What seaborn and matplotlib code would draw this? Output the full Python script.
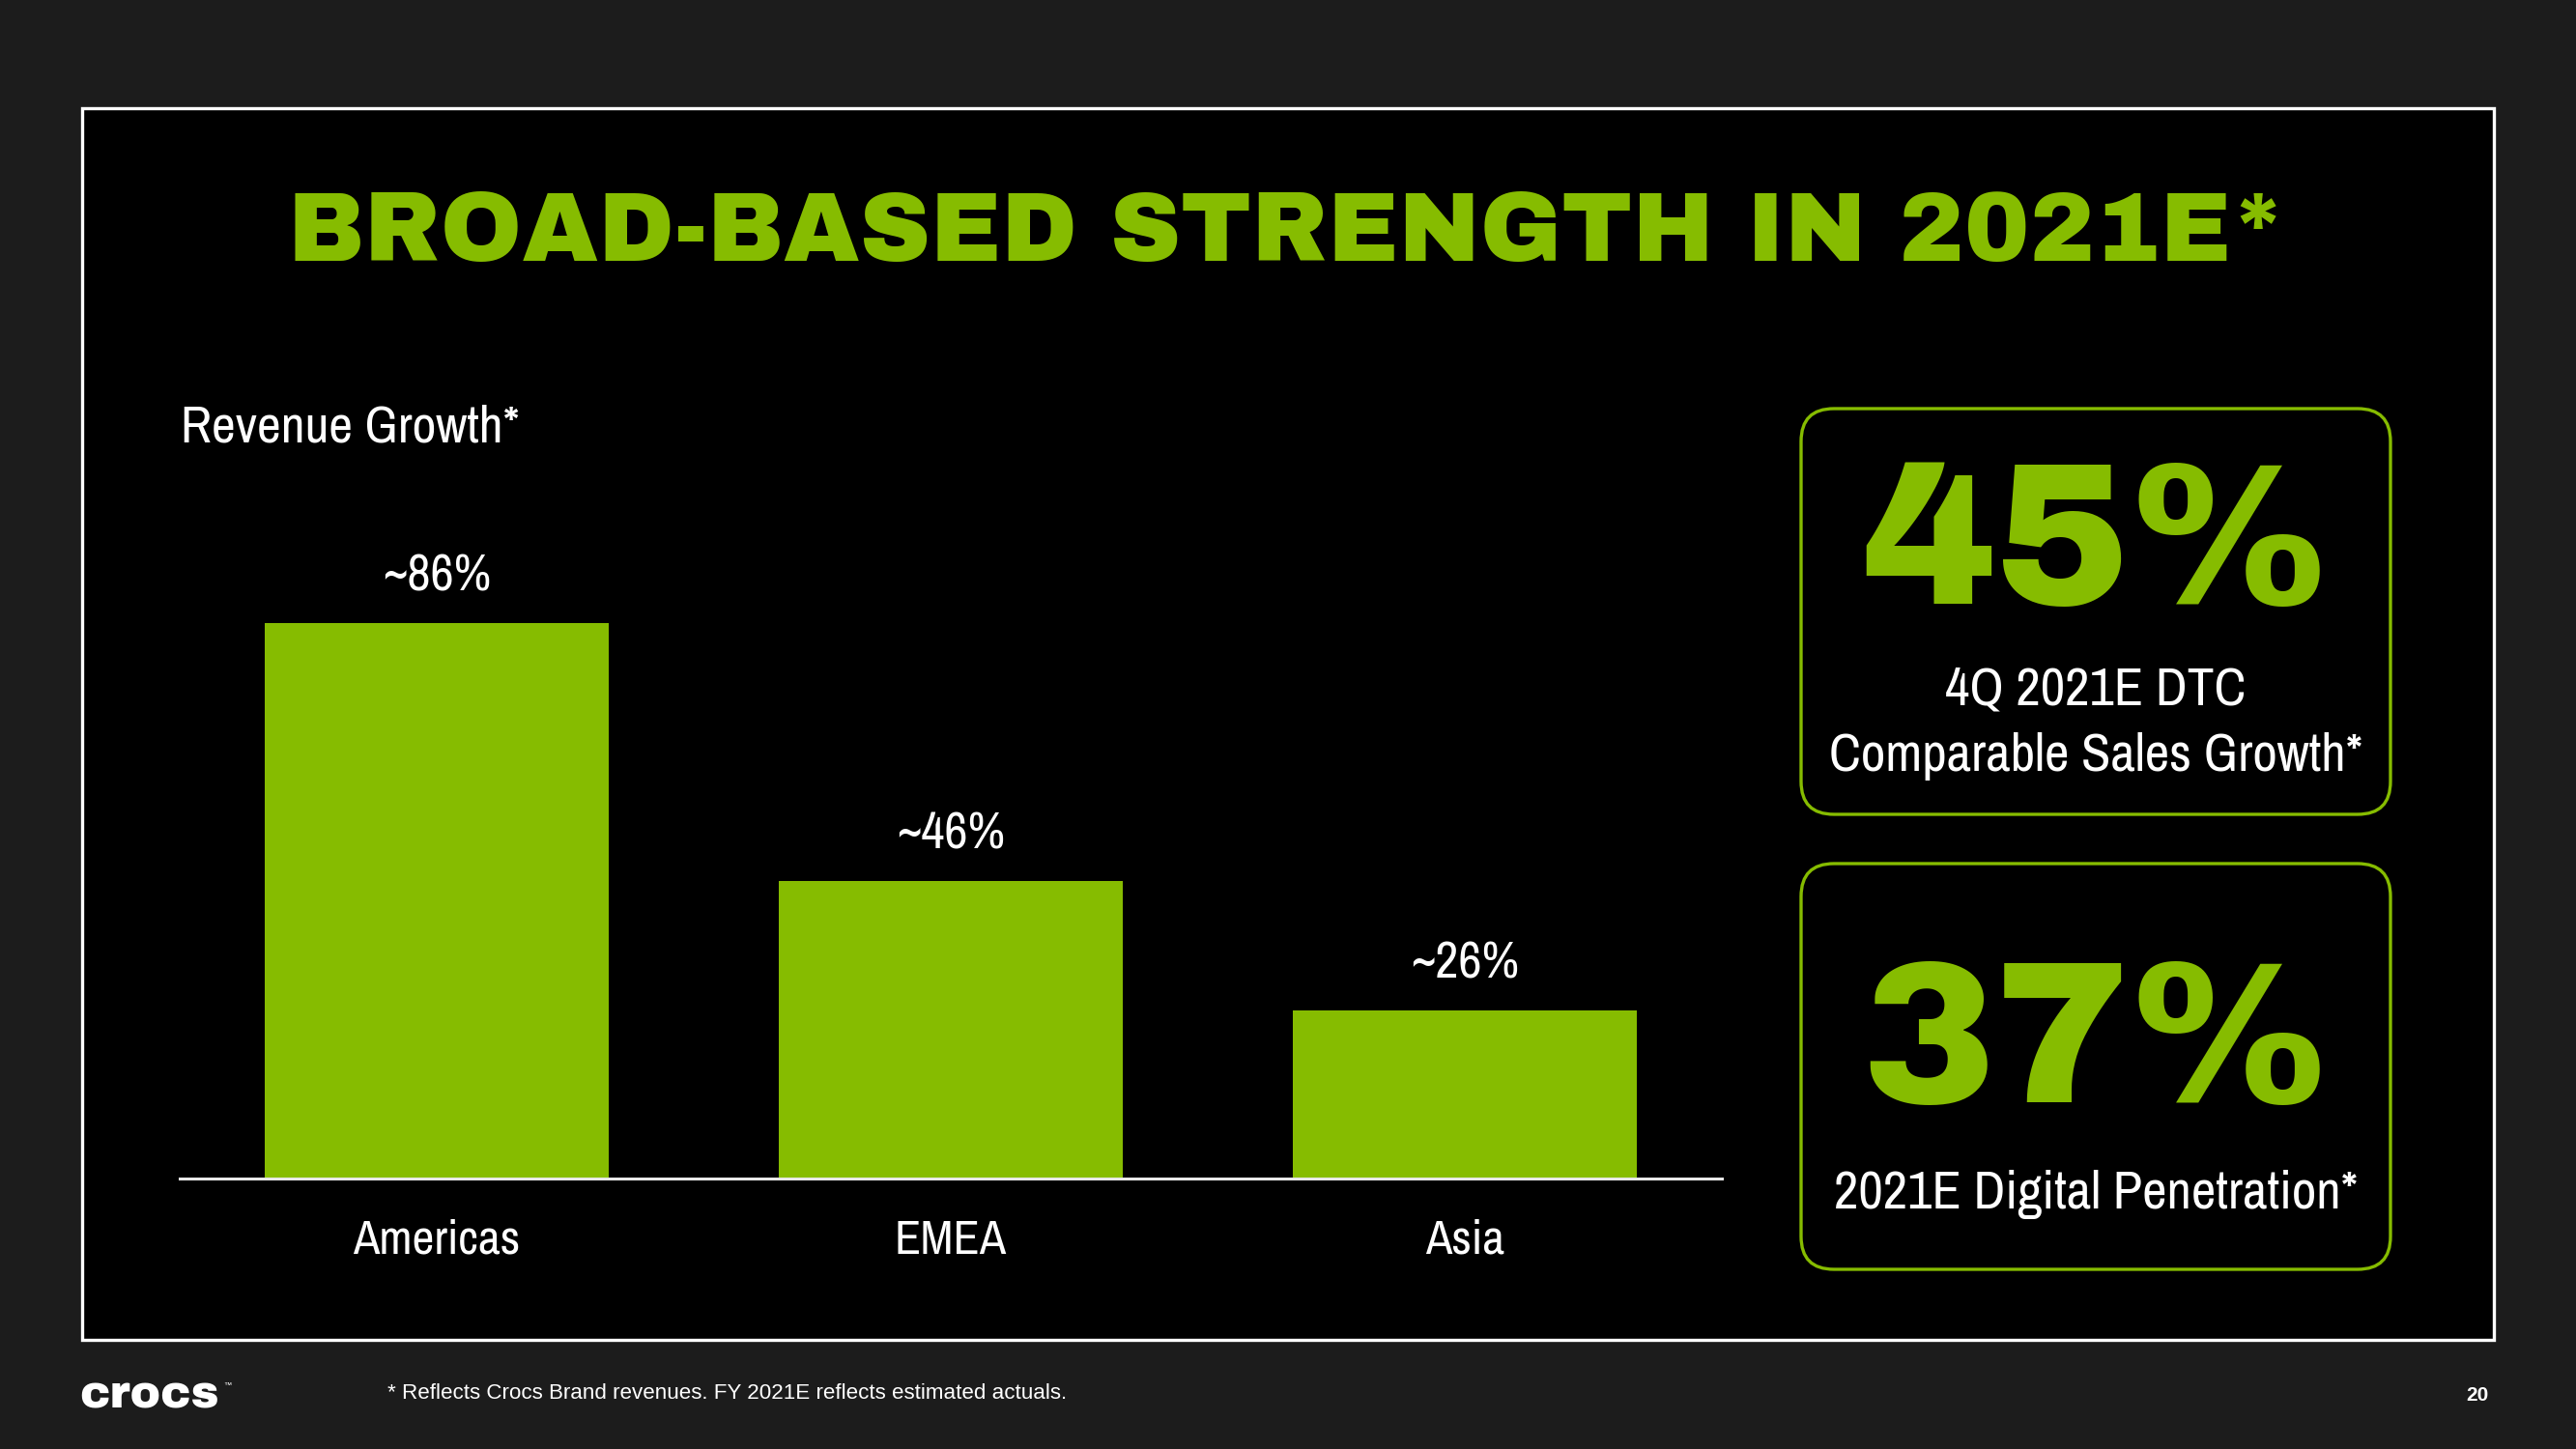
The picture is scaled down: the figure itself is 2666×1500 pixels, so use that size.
import matplotlib
matplotlib.use("Agg")
import matplotlib.pyplot as plt
from matplotlib.patches import Rectangle, FancyBboxPatch
import seaborn as sns
import pandas as pd

# ---- data ----
regions = ["Americas", "EMEA", "Asia"]
growth = [86, 46, 26]
growth_labels = ["~86%", "~46%", "~26%"]
kpi_values = ["45%", "37%"]
kpi_labels = [["4Q 2021E DTC", "Comparable Sales Growth*"], ["2021E Digital Penetration*"]]
title = "BROAD-BASED STRENGTH IN 2021E*"
subtitle = "Revenue Growth*"
footnote = "* Reflects Crocs Brand revenues. FY 2021E reflects estimated actuals."
page_no = "20"

GREEN = "#86BC00"
BG = "#1c1c1c"
NARROW = ["Archivo Narrow", "Roboto Condensed", "DejaVu Sans"]
HEAVY = ["Archivo Black", "Lato", "DejaVu Sans"]
REG = ["Liberation Sans", "DejaVu Sans"]

sns.set_theme(style="white")
plt.rcParams["font.family"] = NARROW

W, H = 2666, 1500
fig = plt.figure(figsize=(W / 100, H / 100), dpi=100, facecolor=BG)

# background / decoration axes in pixel coordinates
bg = fig.add_axes([0, 0, 1, 1], zorder=0)
bg.set_xlim(0, W)
bg.set_ylim(H, 0)
bg.axis("off")
bg.set_facecolor("none")

bg.add_patch(Rectangle((85, 112), 2496, 1275, facecolor="black",
                       edgecolor="white", linewidth=2.4))

bg.text(1332, 243, title, color=GREEN, family=HEAVY,
        fontsize=73, ha="center", va="center")
bg.text(187, 443, subtitle, color="white", family=NARROW, fontsize=39,
        ha="left", va="center")

# KPI boxes
boxes = [(1864, 423, 610, 420), (1864, 894, 610, 420)]
big_y = [569, 1086]
lab_ys = [[715, 783], [1237]]
for (x, y, w, h), val, labs, vy, lys in zip(boxes, kpi_values, kpi_labels, big_y, lab_ys):
    bg.add_patch(FancyBboxPatch((x, y), w, h,
                                boxstyle="round,pad=0,rounding_size=34",
                                facecolor="black", edgecolor=GREEN, linewidth=2.4))
    bg.text(x + w / 2, vy, val, color=GREEN, family=HEAVY,
            fontsize=150, ha="center", va="center")
    for lab, ly in zip(labs, lys):
        bg.text(x + w / 2, ly, lab, color="white", family=NARROW, fontsize=40,
                ha="center", va="center")

# footer
bg.text(82, 1445, "crocs", color="white", family=HEAVY,
        fontsize=34, ha="left", va="center")
bg.text(231, 1434, "™", color="white", family=REG, fontsize=6,
        ha="left", va="center")
bg.text(401, 1442, footnote, color="white", family=REG, fontsize=16.1,
        ha="left", va="center")
bg.text(2564, 1445, page_no, color="white", family=REG, fontweight="bold",
        fontsize=15, ha="center", va="center")

# bar chart axes
ax_left, ax_right = 186, 1782
base_y, top_y = 1220, 400
ax = fig.add_axes([ax_left / W, 1 - base_y / H, (ax_right - ax_left) / W,
                   (base_y - top_y) / H], zorder=1)
ax.set_facecolor("none")
df = pd.DataFrame({"region": regions, "growth": growth})
sns.barplot(data=df, x="region", y="growth", color=GREEN, saturation=1,
            width=0.668, ax=ax, linewidth=0)
ax.set_xlim(-0.5, 2.5)
ax.set_ylim(0, (base_y - top_y) / (575 / 86))
ax.bar_label(ax.containers[0], labels=growth_labels, padding=18,
             color="white", fontsize=38, family=NARROW)
ax.set_xlabel("")
ax.set_ylabel("")
ax.set_yticks([])
for s in ["top", "right", "left"]:
    ax.spines[s].set_visible(False)
ax.spines["bottom"].set_color("#e8e8e8")
ax.spines["bottom"].set_linewidth(2.2)
ax.tick_params(axis="x", length=0, pad=30, labelsize=36, labelcolor="white")
for t in ax.get_xticklabels():
    t.set_family(NARROW)

fig.savefig("out.png", dpi=100, facecolor=BG)
